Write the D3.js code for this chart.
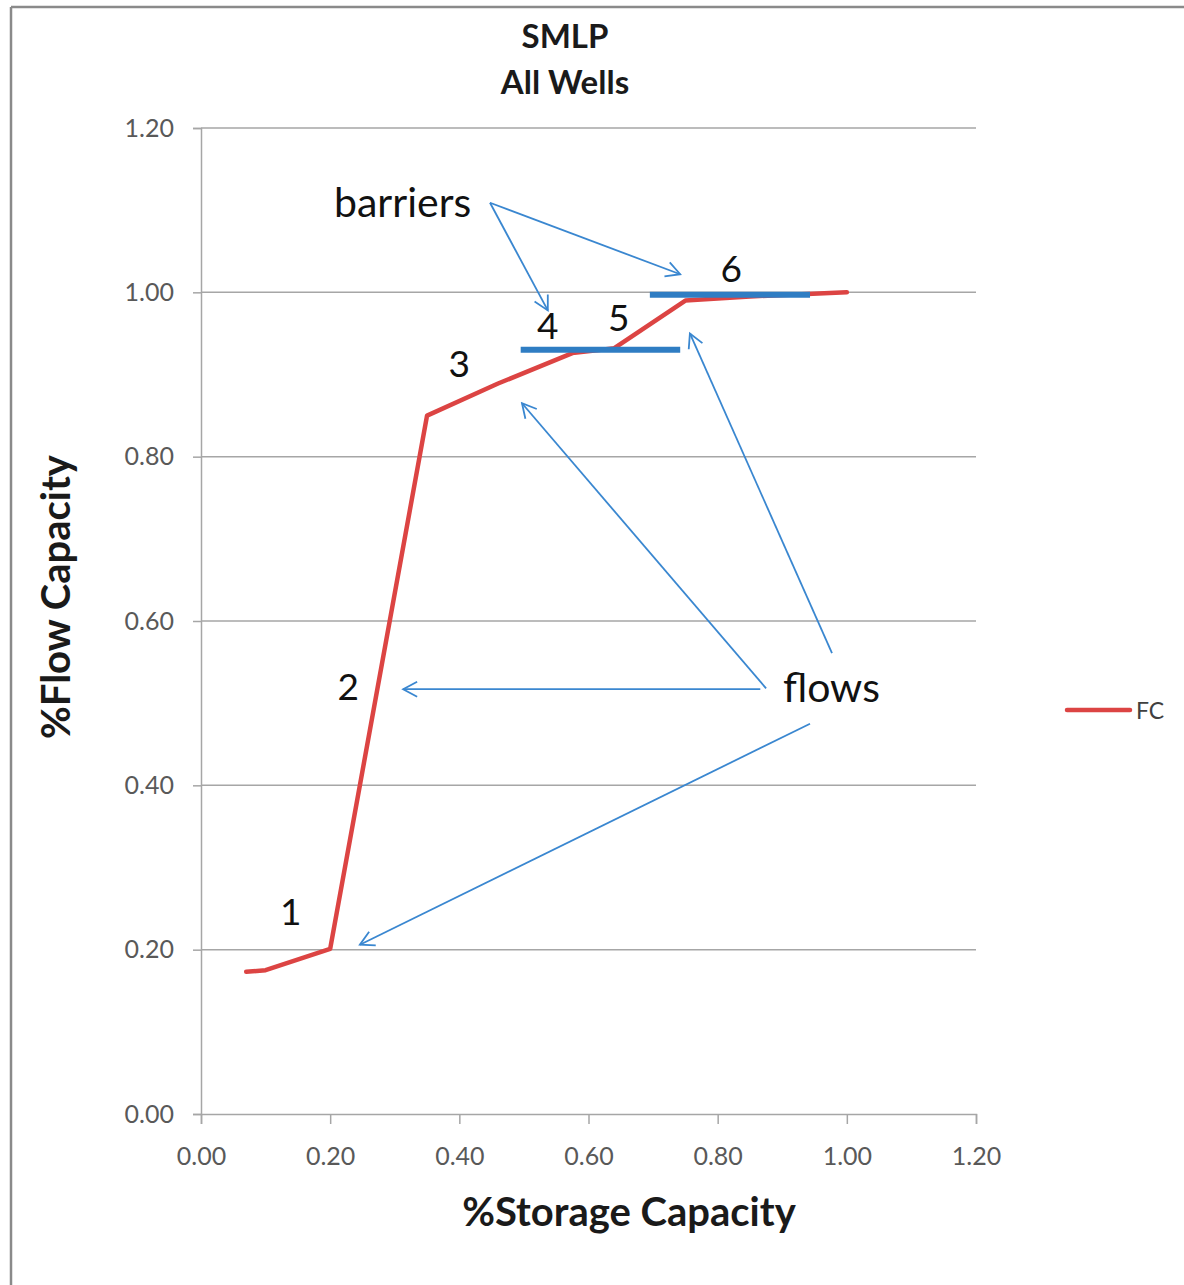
<!DOCTYPE html>
<html>
<head>
<meta charset="utf-8">
<script src="https://cdn.jsdelivr.net/npm/d3@7"></script>
<style>
  html, body { margin: 0; padding: 0; background: #fff; }
  svg { display: block; }
</style>
</head>
<body>
<svg id="chart" width="1184" height="1285"></svg>
<script>
// ---- data ----
const storage = [0.07, 0.10, 0.20, 0.35, 0.46, 0.575, 0.64, 0.75, 0.85, 1.00];
const flow    = [0.173, 0.175, 0.201, 0.85, 0.889, 0.926, 0.932, 0.99, 0.995, 1.00];
const xTicks = [0, 0.2, 0.4, 0.6, 0.8, 1.0, 1.2];
const yTicks = [0, 0.2, 0.4, 0.6, 0.8, 1.0, 1.2];
const barrierStart = [0.495, 0.695];
const barrierEnd   = [0.742, 0.943];
const barrierLevel = [0.930, 0.997];
const zoneLabels = ["1", "2", "3", "4", "5", "6"];
const zoneX = [0.139, 0.228, 0.400, 0.537, 0.647, 0.821];
const zoneY = [0.248, 0.522, 0.915, 0.961, 0.971, 1.030];
// annotation arrows (data coords): from -> to
const barrierArrowFrom = [[0.4475, 1.109], [0.4475, 1.109]];
const barrierArrowTo   = [[0.537, 0.978], [0.742, 1.022]];
const flowArrowFrom = [[0.866, 0.517], [0.875, 0.518], [0.977, 0.561], [0.943, 0.475]];
const flowArrowTo   = [[0.313, 0.517], [0.497, 0.865], [0.757, 0.950], [0.246, 0.206]];

const svg = d3.select("#chart");
const W = 1184, H = 1285;
const x = d3.scaleLinear().domain([0, 1.2]).range([201, 976]);
const y = d3.scaleLinear().domain([0, 1.2]).range([1114, 128]);

const font = "Lato, 'Open Sans', sans-serif";

// outer frame (left & top edges visible)
svg.append("line").attr("x1", 11).attr("x2", 11).attr("y1", 7).attr("y2", H)
  .attr("stroke", "#8a8a8a").attr("stroke-width", 2.5);
svg.append("line").attr("x1", 11).attr("x2", W).attr("y1", 7).attr("y2", 7)
  .attr("stroke", "#8a8a8a").attr("stroke-width", 2.5);

// gridlines
svg.append("g").selectAll("line").data(yTicks.slice(1)).join("line")
  .attr("x1", x(0)).attr("x2", x(1.2))
  .attr("y1", d => y(d)).attr("y2", d => y(d))
  .attr("stroke", "#a6a6a6").attr("stroke-width", 1.5);

// axes
const yAxis = d3.axisLeft(y).tickValues(yTicks).tickFormat(d3.format(".2f")).tickSize(8).tickPadding(19);
const gy = svg.append("g").attr("transform", `translate(${x(0)},0)`).call(yAxis);
const xAxis = d3.axisBottom(x).tickValues(xTicks).tickFormat(d3.format(".2f")).tickSize(10).tickPadding(23);
const gx = svg.append("g").attr("transform", `translate(0,${y(0)})`).call(xAxis);
[gx, gy].forEach(g => {
  g.selectAll(".domain").attr("stroke", "#a6a6a6").attr("stroke-width", 1.5);
  g.selectAll(".tick line").attr("stroke", "#a6a6a6").attr("stroke-width", 1.5);
  g.selectAll(".tick text").attr("fill", "#595959").style("font-family", font).style("font-size", "25px");
});

// title
svg.append("text").attr("x", 565).attr("y", 48).attr("text-anchor", "middle")
  .style("font-family", font).style("font-weight", "bold").style("font-size", "33px").attr("fill", "#1a1a1a")
  .text("SMLP");
svg.append("text").attr("x", 565).attr("y", 94).attr("text-anchor", "middle")
  .style("font-family", font).style("font-weight", "bold").style("font-size", "33px").attr("fill", "#1a1a1a")
  .text("All Wells");

// axis titles
svg.append("text").attr("x", 629).attr("y", 1226).attr("text-anchor", "middle")
  .style("font-family", font).style("font-weight", "bold").style("font-size", "40px").attr("fill", "#1a1a1a")
  .text("%Storage Capacity");
svg.append("text").attr("transform", "translate(70,597) rotate(-90)").attr("text-anchor", "middle")
  .style("font-family", font).style("font-weight", "bold").style("font-size", "40px").attr("fill", "#1a1a1a")
  .text("%Flow Capacity");

// FC line
const pts = storage.map((s, i) => [s, flow[i]]);
const line = d3.line().x(d => x(d[0])).y(d => y(d[1]));
svg.append("path").datum(pts).attr("d", line)
  .attr("fill", "none").attr("stroke", "#dc4443").attr("stroke-width", 4.5)
  .attr("stroke-linejoin", "round").attr("stroke-linecap", "round");

// barriers
svg.append("g").selectAll("line").data(barrierStart).join("line")
  .attr("x1", (d) => x(d)).attr("x2", (d, i) => x(barrierEnd[i]))
  .attr("y1", (d, i) => y(barrierLevel[i])).attr("y2", (d, i) => y(barrierLevel[i]))
  .attr("stroke", "#2f7dc3").attr("stroke-width", 6);

// zone labels
svg.append("g").selectAll("text").data(zoneLabels).join("text")
  .attr("x", (d, i) => x(zoneX[i])).attr("y", (d, i) => y(zoneY[i]))
  .attr("text-anchor", "middle").attr("dominant-baseline", "central")
  .style("font-family", font).style("font-size", "37px").attr("fill", "#111")
  .text(d => d);

// arrow marker
const defs = svg.append("defs");
defs.append("marker").attr("id", "ah").attr("viewBox", "-16 -9 18 18")
  .attr("refX", 0).attr("refY", 0).attr("markerWidth", 18).attr("markerHeight", 18)
  .attr("markerUnits", "userSpaceOnUse").attr("orient", "auto")
  .append("path").attr("d", "M-14,-7.5 L0,0 L-14,7.5")
  .attr("fill", "none").attr("stroke", "#3a87d0").attr("stroke-width", 1.8);

const arrows = barrierArrowFrom.map((f, i) => [f, barrierArrowTo[i]])
  .concat(flowArrowFrom.map((f, i) => [f, flowArrowTo[i]]));
svg.append("g").selectAll("line").data(arrows).join("line")
  .attr("x1", d => x(d[0][0])).attr("y1", d => y(d[0][1]))
  .attr("x2", d => x(d[1][0])).attr("y2", d => y(d[1][1]))
  .attr("stroke", "#3a87d0").attr("stroke-width", 1.8)
  .attr("marker-end", "url(#ah)");

// annotation words
svg.append("text").attr("x", 334).attr("y", 217)
  .style("font-family", font).style("font-size", "41px").attr("fill", "#111")
  .text("barriers");
svg.append("text").attr("x", 783).attr("y", 702)
  .style("font-family", font).style("font-size", "41px").attr("fill", "#111")
  .text("flows");

// legend
svg.append("line").attr("x1", 1067).attr("x2", 1130).attr("y1", 710).attr("y2", 710)
  .attr("stroke", "#dc4443").attr("stroke-width", 4.5).attr("stroke-linecap", "round");
svg.append("text").attr("x", 1136).attr("y", 710).attr("dominant-baseline", "central")
  .style("font-family", font).style("font-size", "23px").attr("fill", "#404040")
  .text("FC");
</script>
</body>
</html>
